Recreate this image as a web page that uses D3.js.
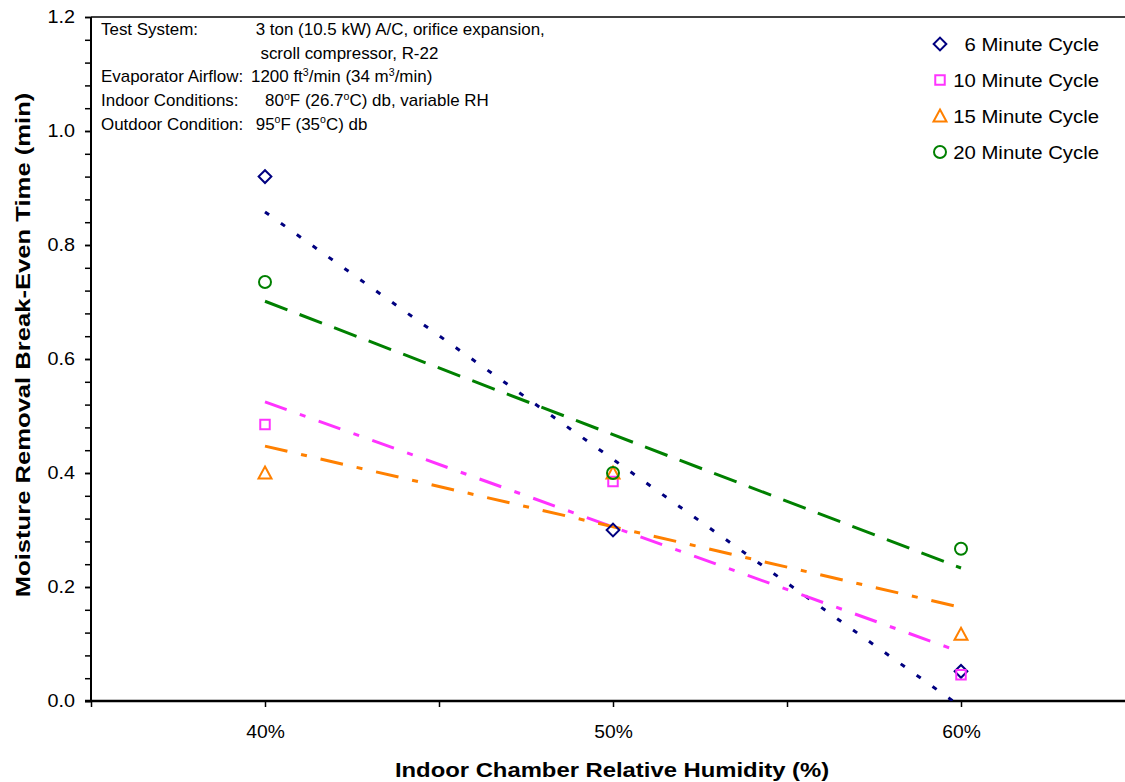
<!DOCTYPE html>
<html>
<head>
<meta charset="utf-8">
<script src="https://cdn.jsdelivr.net/npm/d3@7"></script>
<style>
  html, body { margin: 0; padding: 0; background: #fff; }
  svg { display: block; font-family: Arial, "Liberation Sans", sans-serif; }
</style>
</head>
<body>
<svg id="chart" width="1125" height="782"></svg>
<script>
// Relative humidity of the indoor chamber (%)
const humidity = [40, 50, 60];

// Break-even time (min) per cycle length
const seriesNames = [" 6 Minute Cycle", "10 Minute Cycle", "15 Minute Cycle", "20 Minute Cycle"];
const cycle6  = [0.92, 0.30, 0.052];
const cycle10 = [0.485, 0.385, 0.046];
const cycle15 = [0.40, 0.40, 0.117];
const cycle20 = [0.735, 0.40, 0.267];

const xTickValues = [35, 40, 45, 50, 55, 60, 65];
const xTickLabels = ["", "40%", "", "50%", "", "60%", ""];
const yTickValues = [0, 0.2, 0.4, 0.6, 0.8, 1.0, 1.2];
const yTickLabels = ["0.0", "0.2", "0.4", "0.6", "0.8", "1.0", "1.2"];

const notes = [
  { label: "Test System:", value: [[" 3 ton (10.5 kW) A/C, orifice expansion,"]] },
  { label: "", value: [["  scroll compressor, R-22"]] },
  { label: "Evaporator Airflow:", value: [["1200 ft"], ["3", "sup"], ["/min (34 m"], ["3", "sup"], ["/min)"]] },
  { label: "Indoor Conditions:", value: [["   80"], ["o", "sup"], ["F (26.7"], ["o", "sup"], ["C) db, variable RH"]] },
  { label: "Outdoor Condition:", value: [[" 95"], ["o", "sup"], ["F (35"], ["o", "sup"], ["C) db"]] }
];

const series = [
  { name: seriesNames[0], values: cycle6,  color: "#000080", symbol: "diamond",  dash: "5,14.5" },
  { name: seriesNames[1], values: cycle10, color: "#FF33FF", symbol: "square",   dash: "23,14,6,14" },
  { name: seriesNames[2], values: cycle15, color: "#FF8000", symbol: "triangle", dash: "23,14,6,14" },
  { name: seriesNames[3], values: cycle20, color: "#008000", symbol: "circle",   dash: "24,13" }
];

const svg = d3.select("#chart");
const plotLeft = 91, plotTop = 17, plotBottom = 701, plotRight = 1135;
const FONT = "Arial, 'Liberation Sans', sans-serif";

const x = d3.scaleLinear().domain([35, 65]).range([plotLeft, plotRight]);
const y = d3.scaleLinear().domain([0, 1.2]).range([plotBottom, plotTop]);

// Plot clip region
svg.append("defs").append("clipPath").attr("id", "plotClip")
  .append("rect").attr("x", plotLeft).attr("y", plotTop)
  .attr("width", plotRight - plotLeft).attr("height", plotBottom - plotTop);

// Top frame line
svg.append("line")
  .attr("x1", plotLeft).attr("x2", 1125).attr("y1", plotTop).attr("y2", plotTop)
  .attr("stroke", "#000").attr("stroke-width", 1.5);

// Y axis with minor ticks
const yMinor = d3.range(0, 1.2001, 0.04);
const yAxisG = svg.append("g").attr("transform", `translate(${plotLeft},0)`);
yAxisG.call(d3.axisLeft(y).tickValues(yMinor).tickSize(6).tickFormat(""))
  .call(g => g.select(".domain").remove());
yAxisG.append("g").call(d3.axisLeft(y).tickValues(yTickValues).tickSize(6).tickPadding(8.5)
    .tickFormat((d, i) => yTickLabels[i]))
  .call(g => g.select(".domain").remove())
  .call(g => g.selectAll("text").attr("font-size", 18).attr("fill", "#000")
    .attr("font-family", FONT).attr("transform", "scale(1.1,1)"));
yAxisG.selectAll("line").attr("stroke", "#000").attr("stroke-width", 1.5);
yAxisG.append("line").attr("x1", 0).attr("x2", 0).attr("y1", plotTop).attr("y2", plotBottom)
  .attr("stroke", "#000").attr("stroke-width", 2);

// X axis
const xAxisG = svg.append("g").attr("transform", `translate(0,${plotBottom})`);
xAxisG.call(d3.axisBottom(x).tickValues(xTickValues).tickSize(6).tickPadding(18.5)
    .tickFormat((d, i) => xTickLabels[i]))
  .call(g => g.select(".domain").remove())
  .call(g => g.selectAll("text").attr("font-size", 18).attr("fill", "#000")
    .attr("font-family", FONT).attr("transform", "scale(1.07,1)"));
xAxisG.selectAll("line").attr("stroke", "#000").attr("stroke-width", 1.5);
xAxisG.append("line").attr("x1", plotLeft - 6).attr("x2", 1125).attr("y1", 0).attr("y2", 0)
  .attr("stroke", "#000").attr("stroke-width", 2.5);

// Axis titles
svg.append("text")
  .attr("transform", "translate(612,776.5) scale(1.135,1)").attr("text-anchor", "middle")
  .attr("font-size", 21).attr("font-weight", "bold")
  .text("Indoor Chamber Relative Humidity (%)");
svg.append("text")
  .attr("transform", "translate(29.5,345) rotate(-90) scale(1.22,1)").attr("text-anchor", "middle")
  .attr("font-size", 21).attr("font-weight", "bold")
  .text("Moisture Removal Break-Even Time (min)");

// Least-squares trend line for each series
function fit(xs, ys) {
  const mx = d3.mean(xs), my = d3.mean(ys);
  const sxy = d3.sum(xs, (v, i) => (v - mx) * (ys[i] - my));
  const sxx = d3.sum(xs, v => (v - mx) * (v - mx));
  const b = sxy / sxx;
  return v => my + b * (v - mx);
}

const plot = svg.append("g").attr("clip-path", "url(#plotClip)");
const line = d3.line().x(d => x(d[0])).y(d => y(d[1]));

series.forEach(s => {
  const f = fit(humidity, s.values);
  const ends = [humidity[0], humidity[humidity.length - 1]];
  plot.append("path")
    .attr("d", line(ends.map(h => [h, f(h)])))
    .attr("fill", "none").attr("stroke", s.color)
    .attr("stroke-width", 3).attr("stroke-dasharray", s.dash);
});

// Marker shapes
function marker(g, kind, color) {
  if (kind === "diamond") {
    g.append("path").attr("d", d3.symbol().type(d3.symbolSquare).size(81)())
      .attr("transform", "rotate(45)");
  } else if (kind === "square") {
    g.append("path").attr("d", d3.symbol().type(d3.symbolSquare).size(90)());
  } else if (kind === "triangle") {
    g.append("path").attr("d", "M0,-6.5 L6.5,5.5 L-6.5,5.5 Z");
  } else {
    g.append("circle").attr("r", 6);
  }
  g.selectAll("path,circle").attr("fill", "none").attr("stroke", color).attr("stroke-width", 2);
}

series.forEach(s => {
  humidity.forEach((h, i) => {
    const g = svg.append("g").attr("transform", `translate(${x(h)},${y(s.values[i])})`);
    marker(g, s.symbol, s.color);
  });
});

// Legend
const legend = svg.append("g");
series.forEach((s, i) => {
  const cy = 44 + i * 36;
  marker(legend.append("g").attr("transform", `translate(940,${cy})`), s.symbol, s.color);
  legend.append("text")
    .attr("transform", `translate(1099,${cy + 6.5}) scale(1.1,1)`)
    .attr("text-anchor", "end").attr("style", "white-space: pre")
    .attr("font-size", 18.5).attr("fill", "#000")
    .text(s.name);
});

// Test condition notes
const notesG = svg.append("g").attr("font-size", 16).attr("fill", "#000");
notes.forEach((n, i) => {
  const by = 35 + i * 23.7;
  notesG.append("text").attr("transform", `translate(101,${by}) scale(1.06,1)`).text(n.label);
  const t = notesG.append("text").attr("transform", `translate(251,${by}) scale(1.06,1)`)
    .attr("style", "white-space: pre");
  n.value.forEach((part, j) => {
    const prev = j > 0 ? n.value[j - 1][1] : null;
    const ts = t.append("tspan").text(part[0]);
    if (part[1] === "sup") ts.attr("font-size", 10).attr("dy", -6.5);
    else if (prev === "sup") ts.attr("dy", 6.5);
  });
});
</script>
</body>
</html>
